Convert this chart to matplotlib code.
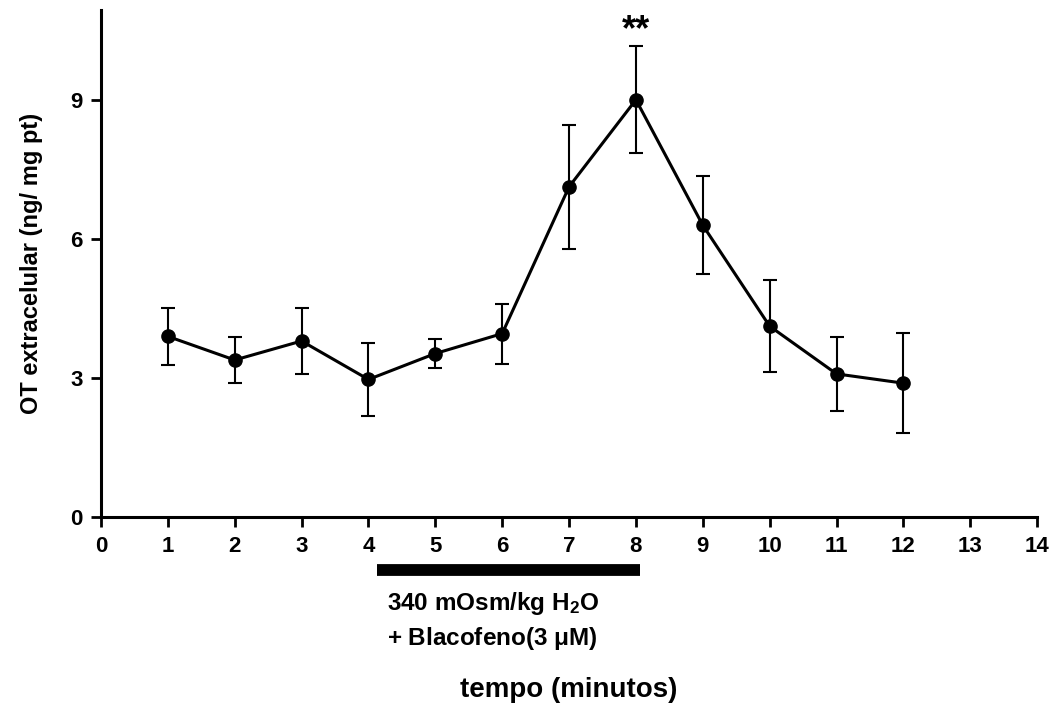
import numpy as np
import matplotlib.pyplot as plt
import matplotlib.transforms as mtransforms

# dados
tempo = [1, 2, 3, 4, 5, 6, 7, 8, 9, 10, 11, 12]
ot_media = [3.90, 3.39, 3.80, 2.97, 3.53, 3.96, 7.13, 9.01, 6.30, 4.12, 3.09, 2.89]
ot_epm = [0.62, 0.50, 0.71, 0.79, 0.31, 0.65, 1.34, 1.16, 1.06, 0.99, 0.80, 1.08]
x_ticks = list(range(0, 15))
y_ticks = [0, 3, 6, 9]
periodo_tratamento = (4.13, 8.06)

plt.rcParams['font.family'] = ['Liberation Sans', 'DejaVu Sans']
plt.rcParams['font.weight'] = 'bold'
plt.rcParams['axes.labelweight'] = 'bold'
plt.rcParams['mathtext.fontset'] = 'custom'
plt.rcParams['mathtext.rm'] = 'Liberation Sans:bold'
plt.rcParams['mathtext.it'] = 'Liberation Sans:bold'
plt.rcParams['mathtext.bf'] = 'Liberation Sans:bold'

fig = plt.figure(figsize=(10.54, 7.06), dpi=100)
ax = fig.add_axes([0.0958, 0.2677, 0.8882, 0.7183])

ax.errorbar(tempo, ot_media, yerr=ot_epm, fmt='o-', color='black',
            markersize=9.5, linewidth=2.2, elinewidth=1.5, capsize=5, capthick=1.5,
            clip_on=False, zorder=3)

# significância
ax.text(8, 10.5, '**', ha='center', va='center', fontsize=26)

ax.set_xlim(0, 14)
ax.set_ylim(0, 10.95)
ax.set_xticks(x_ticks)
ax.set_yticks(y_ticks)
ax.tick_params(axis='both', labelsize=16, width=2, length=7, direction='out')
ax.tick_params(axis='x', pad=7)
ax.tick_params(axis='y', pad=6)
for s in ['top', 'right']:
    ax.spines[s].set_visible(False)
for s in ['left', 'bottom']:
    ax.spines[s].set_linewidth(2.2)

ax.set_ylabel('OT extracelular (ng/ mg pt)', fontsize=17, fontweight='bold', labelpad=20)

# barra do tratamento
trans = mtransforms.blended_transform_factory(ax.transData, ax.transAxes)
ax.plot(periodo_tratamento, [-0.105, -0.105], color='black', linewidth=8.5,
        solid_capstyle='butt', transform=trans, clip_on=False)
ax.text(4.27, -0.17, '340 mOsm/kg H$_2$O', transform=trans, ha='left', va='center', fontsize=17.5)
ax.text(4.27, -0.24, '+ Blacofeno(3 $\\mu$M)', transform=trans, ha='left', va='center', fontsize=17.5)

fig.text(569 / 1054, 1 - 690 / 706, 'tempo (minutos)', ha='center', va='center', fontsize=20)

fig.savefig('out.png', dpi=100)
